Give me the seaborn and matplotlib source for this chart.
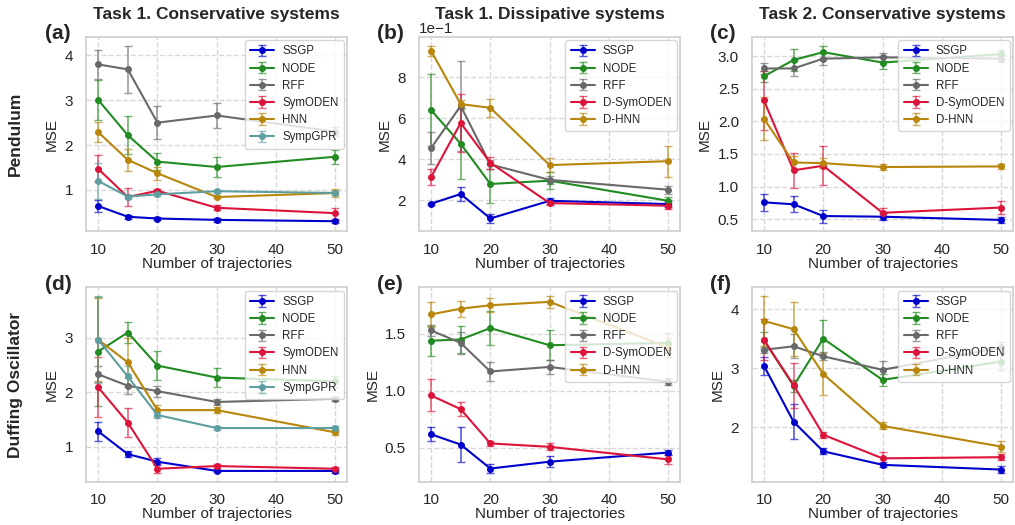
import numpy as np
import pandas as pd
import matplotlib
matplotlib.use("Agg")
import matplotlib.pyplot as plt
import seaborn as sns

# ---------------- data ----------------
n_traj = [10, 15, 20, 30, 50]

cons_methods = ["SSGP", "NODE", "RFF", "SymODEN", "HNN", "SympGPR"]
diss_methods = ["SSGP", "NODE", "RFF", "D-SymODEN", "D-HNN"]

colors = {
    "SSGP": "mediumblue", "NODE": "forestgreen", "RFF": "dimgray",
    "SymODEN": "crimson", "D-SymODEN": "crimson",
    "HNN": "darkgoldenrod", "D-HNN": "darkgoldenrod", "SympGPR": "cadetblue",
}

# (a) Pendulum, Task 1 conservative
a_mean = {
    "SSGP":    [0.64, 0.40, 0.36, 0.33, 0.30],
    "NODE":    [3.01, 2.22, 1.63, 1.51, 1.74],
    "RFF":     [3.80, 3.69, 2.50, 2.66, 2.30],
    "SymODEN": [1.47, 0.84, 0.98, 0.60, 0.48],
    "HNN":     [2.29, 1.67, 1.37, 0.84, 0.93],
    "SympGPR": [1.20, 0.85, 0.90, 0.97, 0.93],
}
a_err = {
    "SSGP":    [0.13, 0.05, 0.04, 0.04, 0.03],
    "NODE":    [0.45, 0.42, 0.19, 0.22, 0.16],
    "RFF":     [0.33, 0.53, 0.37, 0.27, 0.10],
    "SymODEN": [0.30, 0.20, 0.05, 0.06, 0.12],
    "HNN":     [0.22, 0.24, 0.15, 0.03, 0.08],
    "SympGPR": [0.40, 0.03, 0.03, 0.03, 0.05],
}

# (b) Pendulum, Task 1 dissipative (values shown with a 1e-1 offset)
b_mean = {
    "SSGP":      [0.184, 0.231, 0.112, 0.198, 0.182],
    "NODE":      [0.640, 0.476, 0.280, 0.296, 0.198],
    "RFF":       [0.455, 0.660, 0.375, 0.300, 0.252],
    "D-SymODEN": [0.313, 0.577, 0.383, 0.187, 0.174],
    "D-HNN":     [0.929, 0.669, 0.651, 0.372, 0.391],
}
b_err = {
    "SSGP":      [0.005, 0.033, 0.020, 0.015, 0.015],
    "NODE":      [0.175, 0.170, 0.095, 0.040, 0.020],
    "RFF":       [0.080, 0.220, 0.020, 0.020, 0.020],
    "D-SymODEN": [0.040, 0.140, 0.030, 0.010, 0.015],
    "D-HNN":     [0.025, 0.020, 0.045, 0.035, 0.075],
}

# (c) Pendulum, Task 2 conservative
c_mean = {
    "SSGP":      [0.76, 0.73, 0.55, 0.54, 0.49],
    "NODE":      [2.69, 2.94, 3.06, 2.90, 3.03],
    "RFF":       [2.81, 2.81, 2.96, 2.98, 2.96],
    "D-SymODEN": [2.32, 1.25, 1.32, 0.60, 0.68],
    "D-HNN":     [2.04, 1.37, 1.36, 1.30, 1.31],
}
c_err = {
    "SSGP":      [0.13, 0.12, 0.10, 0.05, 0.04],
    "NODE":      [0.08, 0.17, 0.10, 0.10, 0.07],
    "RFF":       [0.08, 0.12, 0.10, 0.06, 0.05],
    "D-SymODEN": [0.45, 0.27, 0.30, 0.07, 0.10],
    "D-HNN":     [0.33, 0.10, 0.08, 0.04, 0.04],
}

# (d) Duffing, Task 1 conservative
d_mean = {
    "SSGP":    [1.28, 0.86, 0.72, 0.55, 0.55],
    "NODE":    [2.75, 3.10, 2.49, 2.27, 2.20],
    "RFF":     [2.33, 2.12, 2.02, 1.82, 1.88],
    "SymODEN": [2.09, 1.44, 0.59, 0.64, 0.59],
    "HNN":     [2.97, 2.55, 1.67, 1.67, 1.26],
    "SympGPR": [2.97, 2.29, 1.58, 1.34, 1.34],
}
d_err = {
    "SSGP":    [0.17, 0.05, 0.06, 0.02, 0.03],
    "NODE":    [1.00, 0.20, 0.27, 0.17, 0.10],
    "RFF":     [0.15, 0.15, 0.10, 0.05, 0.04],
    "SymODEN": [0.55, 0.27, 0.08, 0.03, 0.04],
    "HNN":     [0.77, 0.45, 0.10, 0.05, 0.04],
    "SympGPR": [0.80, 0.20, 0.05, 0.04, 0.04],
}

# (e) Duffing, Task 1 dissipative
e_mean = {
    "SSGP":      [0.62, 0.53, 0.32, 0.38, 0.46],
    "NODE":      [1.44, 1.45, 1.55, 1.40, 1.42],
    "RFF":       [1.53, 1.42, 1.17, 1.21, 1.08],
    "D-SymODEN": [0.96, 0.84, 0.54, 0.51, 0.40],
    "D-HNN":     [1.67, 1.72, 1.75, 1.78, 1.38],
}
e_err = {
    "SSGP":      [0.06, 0.15, 0.04, 0.05, 0.02],
    "NODE":      [0.13, 0.12, 0.15, 0.13, 0.09],
    "RFF":       [0.05, 0.10, 0.08, 0.06, 0.03],
    "D-SymODEN": [0.14, 0.06, 0.02, 0.03, 0.04],
    "D-HNN":     [0.11, 0.07, 0.06, 0.05, 0.08],
}

# (f) Duffing, Task 2 conservative
f_mean = {
    "SSGP":      [3.04, 2.09, 1.59, 1.36, 1.28],
    "NODE":      [3.47, 2.70, 3.50, 2.80, 3.11],
    "RFF":       [3.31, 3.37, 3.20, 2.97, 3.35],
    "D-SymODEN": [3.48, 2.71, 1.87, 1.47, 1.49],
    "D-HNN":     [3.80, 3.66, 2.90, 2.02, 1.67],
}
f_err = {
    "SSGP":      [0.15, 0.30, 0.05, 0.04, 0.06],
    "NODE":      [0.15, 0.10, 0.32, 0.10, 0.15],
    "RFF":       [0.05, 0.20, 0.07, 0.15, 0.10],
    "D-SymODEN": [0.35, 0.38, 0.05, 0.10, 0.05],
    "D-HNN":     [0.42, 0.46, 0.35, 0.06, 0.10],
}

col_titles = ["Task 1. Conservative systems", "Task 1. Dissipative systems",
              "Task 2. Conservative systems"]
row_titles = ["Pendulum", "Duffing Oscillator"]
panel_labels = ["(a)", "(b)", "(c)", "(d)", "(e)", "(f)"]

panels = [
    (cons_methods, a_mean, a_err), (diss_methods, b_mean, b_err),
    (diss_methods, c_mean, c_err), (cons_methods, d_mean, d_err),
    (diss_methods, e_mean, e_err), (diss_methods, f_mean, f_err),
]

# ---------------- style ----------------
sns.set_theme(style="whitegrid", context="notebook")
FONT = ["Liberation Sans", "DejaVu Sans"]
plt.rcParams["font.family"] = FONT
plt.rcParams["axes.edgecolor"] = "#d0d0d0"
plt.rcParams["grid.linestyle"] = "--"
plt.rcParams["grid.color"] = "#d8d8d8"
plt.rcParams["axes.unicode_minus"] = True

fig, axes = plt.subplots(2, 3, figsize=(10.15, 5.25), dpi=100)
fig.subplots_adjust(left=0.085, right=0.998, top=0.93, bottom=0.082,
                    wspace=0.276, hspace=0.287)

for i, (ax, (methods, means, errs)) in enumerate(zip(axes.flat, panels)):
    rows = []
    for m in methods:
        for x, v, e in zip(n_traj, means[m], errs[m]):
            rows.append({"n": x, "mse": v, "err": e, "method": m})
    df = pd.DataFrame(rows)
    for m in methods:
        sub = df[df["method"] == m]
        ax.errorbar(sub["n"], sub["mse"], yerr=sub["err"], fmt="-o",
                    color=colors[m], lw=1.5, ms=4, capsize=3,
                    elinewidth=1.2,
                    ecolor=matplotlib.colors.to_rgba(colors[m], 0.65),
                    label=m)
    ax.set_xticks([10, 20, 30, 40, 50])
    ax.tick_params(axis="both", labelsize=11)
    ax.tick_params(axis="x", pad=2)
    ax.set_ylabel("MSE", fontsize=11)
    ax.set_xlabel("Number of trajectories", fontsize=11, labelpad=0)
    ax.legend(loc="upper right", fontsize=8.3, framealpha=0.8,
              handlelength=2.1, handletextpad=0.7, borderpad=0.45,
              labelspacing=0.45, borderaxespad=0.3)
    for s in ax.spines.values():
        s.set_color("#d0d0d0")
    ax.text(-0.16, 1.015, panel_labels[i], transform=ax.transAxes,
            fontsize=15, fontweight="bold", ha="left", va="center")
    if i < 3:
        ax.set_title(col_titles[i], fontsize=12.5, fontweight="bold",
                     y=1.0, pad=13)
    if i % 3 == 0:
        ax.text(-0.27, 0.5, row_titles[i // 3], transform=ax.transAxes,
                fontsize=12.5, fontweight="bold", rotation=90,
                ha="center", va="center")

axes[0, 0].set_yticks([1, 2, 3, 4])
axes[0, 1].ticklabel_format(axis="y", style="sci", scilimits=(-1, -1))
axes[0, 1].yaxis.get_offset_text().set_fontsize(11)
axes[0, 1].set_yticks([0.2, 0.4, 0.6, 0.8])
axes[0, 2].set_yticks([0.5, 1.0, 1.5, 2.0, 2.5, 3.0])
axes[1, 0].set_yticks([1, 2, 3])
axes[1, 1].set_yticks([0.5, 1.0, 1.5])
axes[1, 2].set_yticks([2, 3, 4])

fig.savefig("out.png", dpi=100)
